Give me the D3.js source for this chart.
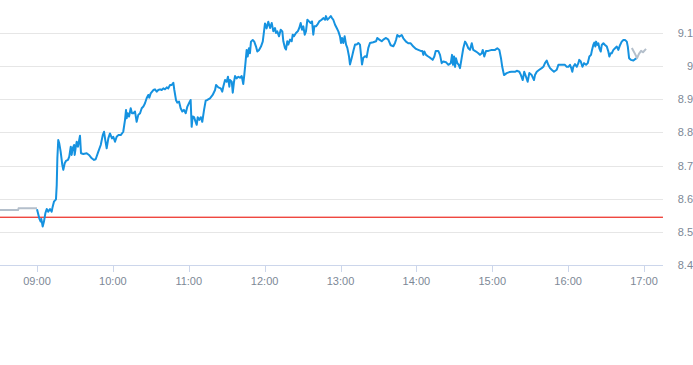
<!DOCTYPE html>
<html><head><meta charset="utf-8">
<script src="https://cdn.jsdelivr.net/npm/d3@7"></script>
<style>html,body{margin:0;padding:0;background:#fff;}svg{display:block;}</style>
</head><body>
<svg id="c" width="693" height="365"></svg>
<script>
// minutes since 09:00 and price (main session)
const sessionMinutes = [0,1.8,2.9,3.4,4.5,5.5,6.6,7.7,8.9,10.3,11.6,12.4,13.4,15.0,15.6,16.1,16.8,17.6,18.7,20.0,20.8,21.9,22.9,24.5,25.5,26.7,27.4,28.2,29.3,29.8,30.6,31.4,32.4,34.0,34.8,36.6,39.3,41.1,43.3,45.1,46.4,48.5,50.4,52.0,53.0,54.0,55.1,56.4,57.7,59.3,60.3,61.7,63.0,64.3,66.2,68.2,69.6,70.4,70.9,71.7,72.8,74.1,75.1,76.2,77.5,78.8,80.1,81.5,82.8,84.1,85.4,86.7,88.0,88.8,89.9,92.0,93.3,94.7,95.9,97.3,98.6,99.9,101.2,102.6,103.8,105.2,106.5,107.8,108.6,109.9,110.9,112.3,113.6,114.9,116.2,117.6,118.9,120.4,121.5,122.3,123.1,124.2,124.9,126.3,127.1,128.3,129.5,130.7,132.1,133.4,134.7,136.8,138.9,140.8,141.6,143.4,145.3,146.5,147.3,148.7,150.0,151.0,152.1,152.6,154.0,154.8,155.8,156.6,157.9,159.2,160.5,161.9,163.1,163.9,164.7,165.8,166.6,167.6,168.4,169.2,170.6,171.8,173.2,174.2,175.6,177.1,178.5,179.5,180.3,181.6,182.9,184.3,185.6,186.9,188.2,189.0,190.0,191.4,192.7,194.0,194.8,196.1,196.9,197.9,198.7,200.1,201.4,202.2,203.2,204.8,206.2,207.4,208.5,209.6,210.6,211.7,212.7,213.8,215.1,216.4,217.5,218.5,219.3,220.6,222.0,223.2,225.1,226.4,227.8,228.5,229.6,230.9,232.3,233.3,234.3,235.7,237.0,238.3,239.6,240.4,241.2,242.2,243.3,244.4,245.4,246.7,247.5,248.9,250.1,251.5,252.8,254.1,255.4,256.2,257.0,258.0,259.4,260.7,262.0,263.3,265.9,268.1,269.1,270.7,272.6,273.9,276.0,277.8,279.7,281.8,283.1,283.9,284.9,286.5,288.4,289.7,291.8,293.6,295.5,297.6,299.7,301.5,303.4,304.7,305.5,306.3,307.6,309.4,311.3,312.9,314.2,315.3,317.3,318.7,320.0,321.3,323.4,325.3,327.2,328.2,329.0,329.8,330.6,331.3,332.4,333.5,334.5,335.8,337.1,338.5,339.8,341.1,342.4,343.8,345.0,347.2,349.0,350.3,351.7,352.5,353.7,355.1,356.9,359.6,362.2,364.0,365.6,366.9,367.9,369.3,371.4,373.5,375.4,378.0,379.4,381.4,382.7,384.1,385.3,386.7,388.0,389.3,391.2,393.0,393.8,395.2,397.2,399.1,400.4,401.7,403.1,404.3,405.7,407.0,408.8,411.0,412.3,414.9,417.5,418.9,420.2,421.5,422.5,423.3,424.1,425.4,426.8,428.1,428.8,430.0,431.3,432.6,434.2,435.5,436.8,438.1,438.9,439.9,440.7,441.5,442.1,443.1,443.9,444.7,445.8,446.6,447.9,449.2,450.6,451.8,452.6,453.7,454.5,455.8,457.1,458.5,459.7,461.1,462.4,463.7,465.0,466.4,467.2,468.2,469.6,471.6,472.9,474.3];
const sessionPrices = [8.568,8.541,8.531,8.539,8.516,8.531,8.556,8.569,8.561,8.569,8.561,8.576,8.591,8.598,8.641,8.722,8.777,8.767,8.742,8.702,8.687,8.707,8.714,8.717,8.727,8.757,8.732,8.752,8.762,8.732,8.754,8.772,8.757,8.790,8.737,8.735,8.737,8.732,8.722,8.717,8.719,8.742,8.762,8.792,8.802,8.777,8.752,8.782,8.797,8.782,8.787,8.772,8.787,8.792,8.792,8.802,8.838,8.868,8.843,8.858,8.848,8.873,8.858,8.858,8.863,8.832,8.853,8.858,8.873,8.878,8.888,8.903,8.913,8.905,8.918,8.928,8.930,8.923,8.928,8.930,8.928,8.933,8.930,8.936,8.933,8.943,8.943,8.950,8.928,8.898,8.890,8.893,8.873,8.863,8.868,8.858,8.878,8.890,8.898,8.817,8.848,8.846,8.838,8.823,8.846,8.838,8.846,8.832,8.868,8.896,8.898,8.903,8.913,8.928,8.943,8.936,8.933,8.923,8.938,8.958,8.953,8.968,8.938,8.958,8.953,8.920,8.953,8.970,8.963,8.968,8.965,8.970,8.946,8.973,9.004,9.049,9.029,9.054,9.039,9.074,9.079,9.074,9.059,9.044,9.049,9.059,9.074,9.104,9.129,9.114,9.134,9.115,9.130,9.105,9.115,9.100,9.105,9.090,9.110,9.105,9.075,9.055,9.050,9.075,9.065,9.080,9.075,9.095,9.090,9.100,9.105,9.115,9.130,9.110,9.120,9.095,9.105,9.140,9.135,9.130,9.135,9.095,9.120,9.120,9.127,9.135,9.140,9.145,9.140,9.151,9.140,9.145,9.151,9.145,9.140,9.125,9.115,9.105,9.090,9.070,9.085,9.070,9.090,9.065,9.055,9.030,9.005,9.025,9.045,9.065,9.065,9.070,9.065,9.035,9.005,9.025,9.030,9.027,9.055,9.070,9.072,9.075,9.085,9.080,9.075,9.080,9.085,9.080,9.063,9.060,9.070,9.079,9.094,9.089,9.094,9.084,9.074,9.069,9.069,9.059,9.052,9.049,9.046,9.046,9.034,9.044,9.034,9.029,9.024,9.019,9.029,9.046,9.046,9.034,9.009,9.014,9.012,9.004,9.009,9.034,9.004,9.029,8.998,9.024,9.009,9.004,8.994,9.024,9.054,9.074,9.066,9.054,9.049,9.069,9.049,9.044,9.039,9.034,9.039,9.049,9.029,9.046,9.046,9.049,9.049,9.054,9.049,9.024,8.998,8.973,8.979,8.982,8.983,8.983,8.986,8.983,8.973,8.958,8.983,8.968,8.953,8.979,8.973,8.958,8.973,8.983,8.989,8.994,8.998,9.009,9.017,9.004,8.994,8.989,8.983,8.989,9.004,9.004,9.004,8.998,8.998,9.004,8.994,8.983,8.998,9.006,8.998,9.009,9.019,9.014,8.998,9.009,9.004,9.009,9.029,9.034,9.049,9.064,9.071,9.059,9.074,9.064,9.069,9.054,9.044,9.064,9.069,9.064,9.059,9.044,9.029,9.039,9.039,9.049,9.054,9.059,9.049,9.064,9.074,9.079,9.079,9.074,9.059,9.024,9.019,9.017,9.021,9.024];
// pre-market (grey)
const preMinutes = [-30,-15,-14.5,0];
const prePrices = [8.566,8.566,8.571,8.571];
// after close (grey)
const postMinutes = [470.4,472.9,474.5,476.0,477.7,479.2,481.6];
const postPrices = [9.055,9.037,9.024,9.037,9.046,9.042,9.052];
const prevClose = 8.544;
const yTicks = [8.4,8.5,8.6,8.7,8.8,8.9,9.0,9.1];
const yTickLabels = ["8.4","8.5","8.6","8.7","8.8","8.9","9","9.1"];
const xTicks = [0,60,120,180,240,300,360,420,480];
const xTickLabels = ["09:00","10:00","11:00","12:00","13:00","14:00","15:00","16:00","17:00"];

const svg = d3.select("#c");
const x = d3.scaleLinear().domain([0,480]).range([37,644]);
const y = d3.scaleLinear().domain([8.4,9.1]).range([265,33]);
const plotLeft = 0, plotRight = x(495);

// grid
svg.append("g").selectAll("line").data(yTicks.slice(1)).join("line")
  .attr("x1",plotLeft).attr("x2",plotRight)
  .attr("y1",d=>Math.round(y(d))+0.5).attr("y2",d=>Math.round(y(d))+0.5)
  .attr("stroke","#e6e6e6").attr("stroke-width",1);

// x axis line + ticks
svg.append("line").attr("x1",plotLeft).attr("x2",plotRight)
  .attr("y1",Math.round(y(8.4))+0.5).attr("y2",Math.round(y(8.4))+0.5)
  .attr("stroke","#ccd6eb");
svg.append("g").selectAll("line").data(xTicks).join("line")
  .attr("x1",d=>Math.round(x(d))+0.5).attr("x2",d=>Math.round(x(d))+0.5)
  .attr("y1",Math.round(y(8.4))+1).attr("y2",Math.round(y(8.4))+7)
  .attr("stroke","#ccd6eb");
svg.append("g").selectAll("text").data(xTicks).join("text")
  .attr("x",d=>x(d)).attr("y",285)
  .attr("text-anchor","middle")
  .attr("font-family","Liberation Sans, Arial, sans-serif").attr("font-size",11)
  .attr("fill","#7d8896")
  .text((d,i)=>xTickLabels[i]);

// y labels
svg.append("g").selectAll("text").data(yTicks).join("text")
  .attr("x",693).attr("y",d=>y(d)+4)
  .attr("text-anchor","end")
  .attr("font-family","Liberation Sans, Arial, sans-serif").attr("font-size",11)
  .attr("fill","#7d8896")
  .text((d,i)=>yTickLabels[i]);

// previous close
svg.append("rect").attr("x",plotLeft).attr("width",plotRight-plotLeft)
  .attr("y",y(prevClose)-0.65).attr("height",1.3)
  .attr("fill","#ee3a32");

const line = d3.line().x(d=>x(d[0])).y(d=>y(d[1]));
const zipf = (a,b)=>a.map((v,i)=>[v,b[i]]);

svg.append("path").datum(zipf(preMinutes,prePrices)).attr("d",line)
  .attr("fill","none").attr("stroke","#b4bfcb").attr("stroke-width",2);
svg.append("path").datum(zipf(sessionMinutes,sessionPrices)).attr("d",line)
  .attr("fill","none").attr("stroke","#1592e0").attr("stroke-width",2)
  .attr("stroke-linejoin","round");
svg.append("path").datum(zipf(postMinutes,postPrices)).attr("d",line)
  .attr("fill","none").attr("stroke","#b4bfcb").attr("stroke-width",2)
  .attr("stroke-linejoin","round");
</script>
</body></html>
